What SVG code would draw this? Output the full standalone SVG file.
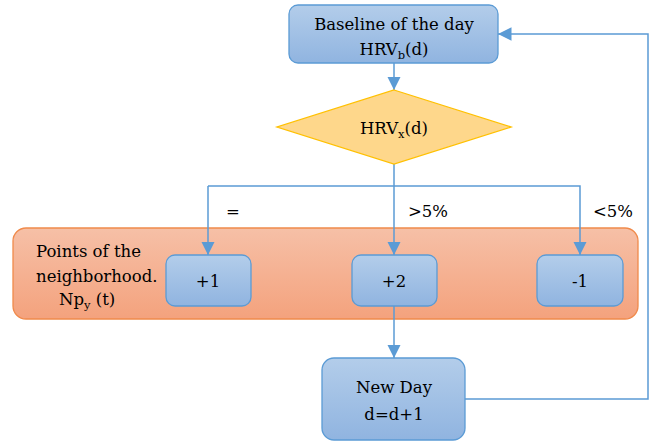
<svg xmlns="http://www.w3.org/2000/svg" width="656" height="443" viewBox="0 0 656 443">
<defs>
<linearGradient id="gBlue" x1="0" y1="0" x2="0" y2="1">
<stop offset="0" stop-color="#b3cdea"/>
<stop offset="1" stop-color="#90b4e0"/>
</linearGradient>
<linearGradient id="gOrange" x1="0" y1="0" x2="0" y2="1">
<stop offset="0" stop-color="#f6c0a7"/>
<stop offset="1" stop-color="#f4a27d"/>
</linearGradient>
<marker id="arr" viewBox="0 0 10 10" refX="10" refY="5" markerWidth="9" markerHeight="9" markerUnits="strokeWidth" orient="auto">
<path d="M0,0 L10,5 L0,10 z" fill="#5b9bd5"/>
</marker>
</defs>
<style>
text{font-family:'DejaVu Serif',serif;font-size:16.5px;fill:#000}
.c{text-anchor:middle}
.box{fill:url(#gBlue);stroke:#5b9bd5;stroke-width:1.3}
.sub{font-size:11.5px}
</style>
<rect width="656" height="443" fill="#fff"/>
<g id="band">
<rect x="13" y="228" width="625" height="91" rx="13" fill="url(#gOrange)" stroke="#f08a4b" stroke-width="1.3"/>
<text x="36" y="257">Points of the</text>
<text x="36" y="282">neighborhood.</text>
<text x="59" y="305">Np<tspan class="sub" dy="4">y</tspan><tspan dy="-4"> (t)</tspan></text>
</g>
<g id="connectors" fill="none" stroke="#5b9bd5" stroke-width="1.5">
<line x1="394" y1="63" x2="394" y2="90" marker-end="url(#arr)"/>
<line x1="394" y1="164" x2="394" y2="255" marker-end="url(#arr)"/>
<polyline points="208,186 580,186 580,255" marker-end="url(#arr)"/>
<line x1="208" y1="186" x2="208" y2="255" marker-end="url(#arr)"/>
<line x1="394" y1="306" x2="394" y2="358" marker-end="url(#arr)"/>
<polyline points="465,399 648,399 648,34 498,34" marker-end="url(#arr)"/>
</g>
<g id="labels">
<text x="226" y="217">=</text>
<text x="408" y="217">&gt;5%</text>
<text x="593" y="217">&lt;5%</text>
</g>
<g id="baseline">
<rect class="box" x="289" y="5" width="209" height="58" rx="9"/>
<text class="c" x="394" y="30">Baseline of the day</text>
<text class="c" x="394" y="55">HRV<tspan class="sub" dy="4">b</tspan><tspan dy="-4">(d)</tspan></text>
</g>
<g id="decision">
<polygon points="394,90 511,127 394,164 277,127" fill="#fed78b" stroke="#ffc000" stroke-width="1.3"/>
<text class="c" x="394" y="134">HRV<tspan class="sub" dy="4">x</tspan><tspan dy="-4">(d)</tspan></text>
</g>
<g id="plus1">
<rect class="box" x="166" y="255" width="85" height="51" rx="9"/>
<text class="c" x="208" y="287">+1</text>
</g>
<g id="plus2">
<rect class="box" x="352" y="255" width="85" height="51" rx="9"/>
<text class="c" x="394" y="287">+2</text>
</g>
<g id="minus1">
<rect class="box" x="537" y="255" width="86" height="51" rx="9"/>
<text class="c" x="580" y="287">-1</text>
</g>
<g id="newday">
<rect class="box" x="322" y="358" width="143" height="82" rx="12"/>
<text class="c" x="394" y="393">New Day</text>
<text class="c" x="394" y="420">d=d+1</text>
</g>
</svg>
